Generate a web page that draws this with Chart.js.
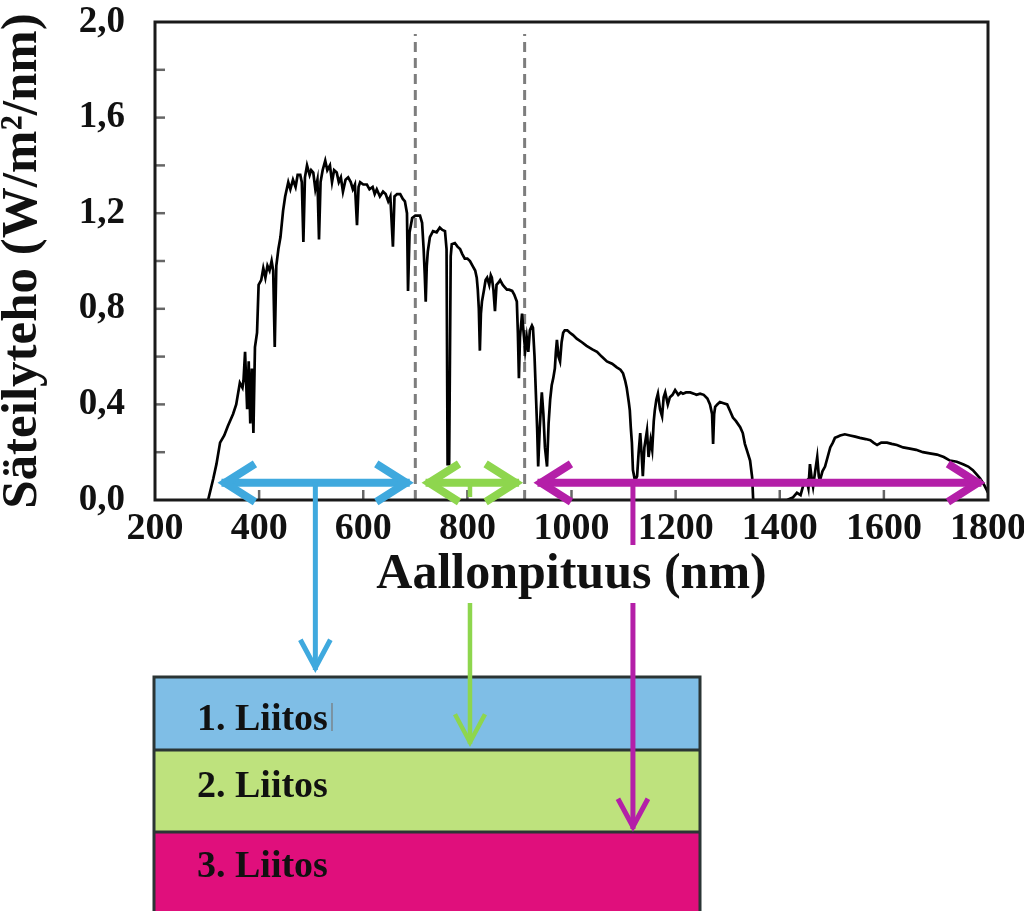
<!DOCTYPE html>
<html>
<head>
<meta charset="utf-8">
<script src="https://cdn.jsdelivr.net/npm/chart.js@4"></script>
<style>
  html, body { margin: 0; padding: 0; background: #fff; overflow: hidden; }
  canvas { display: block; }
</style>
</head>
<body>
<canvas id="spectrum" width="1024" height="911"></canvas>
<script>
// spectrum: wavelength (nm) and irradiance (W/m2/nm)
const wavelengths = [
  302, 312, 318, 325, 333, 340, 350, 356, 363, 368, 370, 373, 377, 380, 383, 386, 389, 392, 396, 399,
  404, 408, 412, 416, 420, 424, 427, 430, 433, 437, 441, 446, 450, 456, 460, 465, 470, 474, 479, 482,
  485, 488, 492, 497, 500, 504, 508, 512, 515, 518, 522, 527, 531, 536, 540, 544, 549, 553, 557, 561,
  566, 571, 576, 580, 584, 588, 591, 594, 600, 607, 612, 618, 622, 626, 632, 638, 643, 648, 652, 657,
  660, 665, 671, 676, 680, 684, 686, 689, 694, 700, 705, 709, 713, 716, 718, 720, 722, 724, 728, 734,
  741, 747, 752, 757, 760, 762, 765, 768, 770, 776, 781, 786, 790, 795, 800, 805, 810, 815, 818, 820,
  822, 824, 826, 828, 832, 835, 838, 842, 845, 847, 850, 853, 856, 860, 863, 868, 872, 876, 880, 886,
  890, 895, 897, 899, 901, 905, 908, 911, 914, 917, 920, 924, 926, 929, 932, 934, 936, 939, 941, 943,
  946, 949, 953, 956, 959, 962, 965, 968, 970, 972, 975, 978, 981, 984, 987, 992, 997, 1003, 1010, 1020,
  1029, 1040, 1049, 1058, 1068, 1078, 1087, 1094, 1099, 1103, 1106, 1110, 1112, 1114, 1116, 1118, 1122, 1126, 1129, 1132,
  1135, 1137, 1140, 1145, 1148, 1152, 1155, 1158, 1160, 1163, 1166, 1170, 1174, 1177, 1180, 1185, 1189, 1194, 1199, 1205,
  1210, 1214, 1220, 1228, 1235, 1240, 1247, 1254, 1261, 1266, 1270, 1272, 1274, 1276, 1280, 1285, 1292, 1299, 1305, 1310,
  1316, 1324, 1329, 1333, 1338, 1343, 1347, 1349, 1414, 1425, 1433, 1440, 1445, 1452, 1455, 1458, 1462, 1464, 1468, 1472,
  1475, 1477, 1482, 1487, 1492, 1497, 1502, 1506, 1511, 1516, 1525, 1535, 1545, 1554, 1565, 1574, 1580, 1587, 1595, 1606,
  1615, 1625, 1637, 1650, 1662, 1675, 1688, 1702, 1715, 1727, 1740, 1752, 1762, 1771, 1779, 1785, 1792, 1798, 1800
];
const irradiance = [
  0, 0.09, 0.15, 0.24, 0.27, 0.31, 0.36, 0.40, 0.49, 0.47, 0.50, 0.62, 0.38, 0.58, 0.32, 0.55, 0.28, 0.64, 0.70, 0.90,
  0.92, 0.97, 0.93, 0.98, 0.96, 1.00, 0.96, 0.64, 0.98, 1.05, 1.10, 1.21, 1.27, 1.33, 1.30, 1.34, 1.31, 1.36, 1.36, 1.33,
  1.08, 1.35, 1.40, 1.36, 1.38, 1.37, 1.30, 1.34, 1.09, 1.33, 1.38, 1.42, 1.38, 1.40, 1.33, 1.38, 1.37, 1.33, 1.35, 1.29,
  1.34, 1.35, 1.33, 1.30, 1.32, 1.15, 1.31, 1.33, 1.32, 1.32, 1.30, 1.31, 1.28, 1.30, 1.27, 1.29, 1.28, 1.25, 1.27, 1.06,
  1.27, 1.28, 1.28, 1.26, 1.25, 1.20, 0.875, 1.12, 1.18, 1.19, 1.19, 1.19, 1.16, 1.05, 0.95, 0.83, 0.98, 1.04, 1.10, 1.125,
  1.12, 1.14, 1.13, 1.125, 1.05, 0.15, 0.15, 1.02, 1.07, 1.075, 1.06, 1.05, 1.03, 1.01, 1.01, 1.00, 0.98, 0.96, 0.93, 0.88,
  0.80, 0.625, 0.78, 0.83, 0.88, 0.92, 0.93, 0.90, 0.94, 0.93, 0.88, 0.79, 0.90, 0.91, 0.92, 0.90, 0.89, 0.88, 0.88, 0.875,
  0.86, 0.83, 0.70, 0.51, 0.68, 0.78, 0.70, 0.625, 0.68, 0.62, 0.71, 0.73, 0.72, 0.60, 0.42, 0.30, 0.14, 0.30, 0.38, 0.45,
  0.36, 0.22, 0.14, 0.32, 0.42, 0.48, 0.51, 0.55, 0.62, 0.67, 0.60, 0.58, 0.66, 0.70, 0.71, 0.71, 0.70, 0.69, 0.675, 0.66,
  0.645, 0.63, 0.62, 0.60, 0.58, 0.57, 0.555, 0.545, 0.53, 0.50, 0.47, 0.41, 0.375, 0.30, 0.24, 0.125, 0.08, 0.10, 0.20, 0.28,
  0.18, 0.10, 0.22, 0.29, 0.18, 0.25, 0.21, 0.33, 0.375, 0.42, 0.445, 0.38, 0.35, 0.43, 0.45, 0.40, 0.43, 0.44, 0.46, 0.44,
  0.45, 0.445, 0.45, 0.45, 0.445, 0.44, 0.445, 0.44, 0.425, 0.40, 0.36, 0.235, 0.36, 0.39, 0.40, 0.41, 0.405, 0.40, 0.37, 0.345,
  0.33, 0.305, 0.28, 0.235, 0.20, 0.165, 0.095, 0, 0, 0.01, 0.03, 0.02, 0.06, 0.08, 0.05, 0.15, 0.08, 0.055, 0.12, 0.18,
  0.10, 0.08, 0.12, 0.14, 0.18, 0.22, 0.24, 0.26, 0.265, 0.27, 0.275, 0.27, 0.265, 0.26, 0.255, 0.25, 0.24, 0.23, 0.24, 0.24,
  0.235, 0.23, 0.22, 0.215, 0.21, 0.20, 0.195, 0.19, 0.18, 0.165, 0.16, 0.15, 0.14, 0.125, 0.105, 0.09, 0.065, 0.04, 0.03
];

const xTicks = [200, 400, 600, 800, 1000, 1200, 1400, 1600, 1800];
const yTicks = [0, 0.4, 0.8, 1.2, 1.6, 2.0];
const yMinorTicks = [0.2, 0.4, 0.6, 0.8, 1.0, 1.2, 1.4, 1.6, 1.8];

// dashed band edges (nm)
const bandEdges = [700, 910];

// junctions: absorbed range (nm) and where the down arrow leaves the range
const junctionNames = ['1. Liitos', '2. Liitos', '3. Liitos'];
const junctionStart = [320, 712, 927];
const junctionEnd = [697, 907, 1795];
const junctionStem = [508, 805, 1118];
const arrowColors = ['#3fa9de', '#8ed64e', '#b41fa8'];
const layerColors = ['#7fbee6', '#bee27d', '#e00f7c'];

const serif = "'Liberation Serif', 'Times New Roman', serif";

function chevron(ctx, tx, ty, dx, dy, len, half, w) {
  // dx,dy: unit direction pointing at the tip
  const ext = (w / 2) / Math.sin(Math.atan2(half, len));
  tx -= dx * ext; ty -= dy * ext;
  const bx = tx - dx * len, by = ty - dy * len;
  ctx.lineWidth = w;
  ctx.lineJoin = 'miter';
  ctx.miterLimit = 10;
  ctx.beginPath();
  ctx.moveTo(bx - dy * half, by + dx * half);
  ctx.lineTo(tx, ty);
  ctx.lineTo(bx + dy * half, by - dx * half);
  ctx.stroke();
}

function seg(ctx, x1, y1, x2, y2) {
  ctx.beginPath();
  ctx.moveTo(x1, y1);
  ctx.lineTo(x2, y2);
  ctx.stroke();
}

const overlay = {
  id: 'overlay',
  afterDatasetsDraw(chart) {
    const { ctx, chartArea: a, scales: { x, y } } = chart;
    ctx.save();
    ctx.lineCap = 'butt';

    // inner tick marks
    ctx.strokeStyle = '#666';
    ctx.lineWidth = 2.5;
    yMinorTicks.forEach(v => {
      const py = y.getPixelForValue(v);
      seg(ctx, a.left, py, a.left + 10, py);
    });
    xTicks.slice(1, -1).forEach(v => {
      const px = x.getPixelForValue(v);
      seg(ctx, px, a.bottom, px, a.bottom - 10);
    });

    // frame
    ctx.strokeStyle = '#1a1a1a';
    ctx.lineWidth = 3;
    ctx.strokeRect(a.left, a.top, a.right - a.left, a.bottom - a.top);

    // layer stack
    const boxTop = a.bottom + 177;
    const rowH = [73, 82, 95];
    const boxL = a.left - 1, boxR = a.left + 545;
    let top = boxTop;
    rowH.forEach((h, i) => {
      ctx.fillStyle = layerColors[i];
      ctx.fillRect(boxL, top, boxR - boxL, h);
      top += h;
    });
    ctx.strokeStyle = '#2b3535';
    ctx.lineWidth = 3;
    ctx.beginPath();
    ctx.moveTo(boxL, 911 + 5);
    ctx.lineTo(boxL, boxTop);
    ctx.lineTo(boxR, boxTop);
    ctx.lineTo(boxR, 911 + 5);
    ctx.stroke();
    seg(ctx, boxL, boxTop + rowH[0], boxR, boxTop + rowH[0]);
    seg(ctx, boxL, boxTop + rowH[0] + rowH[1], boxR, boxTop + rowH[0] + rowH[1]);

    ctx.fillStyle = '#111';
    ctx.font = 'bold 38px ' + serif;
    ctx.textAlign = 'left';
    ctx.textBaseline = 'alphabetic';
    const baselines = [53, 120, 200];
    junctionNames.forEach((t, i) => ctx.fillText(t, a.left + 42, boxTop + baselines[i]));
    ctx.strokeStyle = '#777';
    ctx.lineWidth = 1.2;
    seg(ctx, a.left + 177, boxTop + 26, a.left + 177, boxTop + 54);

    // horizontal range arrows
    const ay = y.getPixelForValue(0.072);
    const arrowW = 8;
    junctionStart.forEach((s, i) => {
      const x1 = x.getPixelForValue(s), x2 = x.getPixelForValue(junctionEnd[i]);
      ctx.strokeStyle = arrowColors[i];
      ctx.lineWidth = arrowW;
      seg(ctx, x1 + 4, ay, x2 - 4, ay);
      chevron(ctx, x1, ay, -1, 0, 30, 19, arrowW);
      chevron(ctx, x2, ay, 1, 0, 30, 19, arrowW);
    });

    // vertical arrows down to the layers (gaps where the axis texts sit)
    const stemSegs = [
      [[0, 173]],
      [[0, 0], [103, 247]],
      [[0, 48], [103, 332]]
    ];
    const stemW = [5, 4.5, 5];
    junctionStem.forEach((s, i) => {
      const px = x.getPixelForValue(s);
      ctx.strokeStyle = arrowColors[i];
      ctx.lineWidth = stemW[i];
      stemSegs[i].forEach(([t, b], k) => {
        const y1 = k === 0 ? ay : a.bottom + t;
        seg(ctx, px, y1, px, a.bottom + b - 3);
      });
      const last = stemSegs[i][stemSegs[i].length - 1][1];
      chevron(ctx, px, a.bottom + last, 0, 1, 28, 15, stemW[i]);
    });

    ctx.restore();
  }
};

const spectrumData = wavelengths.map((w, i) => ({ x: w, y: irradiance[i] }));
const edgeSets = bandEdges.map(e => ({
  data: [{ x: e, y: 0 }, { x: e, y: 1.95 }],
  borderColor: '#7d7d7d',
  borderWidth: 3,
  borderDash: [10, 6],
  pointRadius: 0
}));

new Chart(document.getElementById('spectrum'), {
  type: 'line',
  data: {
    datasets: [{
      data: spectrumData,
      borderColor: '#000',
      borderWidth: 2.7,
      pointRadius: 0,
      tension: 0,
      fill: false
    }, ...edgeSets]
  },
  options: {
    responsive: false,
    animation: false,
    layout: { padding: { left: 0, top: 22, right: 36, bottom: 311 } },
    plugins: { legend: { display: false }, tooltip: { enabled: false } },
    scales: {
      x: {
        type: 'linear',
        min: 200,
        max: 1800,
        afterBuildTicks: s => { s.ticks = xTicks.map(v => ({ value: v })); },
        afterFit: s => { s.height = 100; s.paddingLeft = 0; s.paddingRight = 0; },
        ticks: {
          autoSkip: false,
          maxRotation: 0,
          padding: 10,
          color: '#111',
          font: { family: serif, size: 38, weight: 'bold', lineHeight: 1 },
          callback: v => String(v)
        },
        grid: { display: false, drawTicks: false },
        border: { display: false },
        title: {
          display: true,
          text: 'Aallonpituus (nm)',
          color: '#111',
          padding: 0,
          font: { family: serif, size: 50, weight: 'bold', lineHeight: 1 }
        }
      },
      y: {
        type: 'linear',
        min: 0,
        max: 2,
        afterBuildTicks: s => { s.ticks = yTicks.map(v => ({ value: v })); },
        afterFit: s => { s.width = 155; s.paddingTop = 0; s.paddingBottom = 0; },
        ticks: {
          padding: 30,
          color: '#111',
          font: { family: serif, size: 37, weight: 'bold', lineHeight: 1 },
          callback: v => v.toFixed(1).replace('.', ',')
        },
        grid: { display: false, drawTicks: false },
        border: { display: false },
        title: {
          display: true,
          text: 'Säteilyteho (W/m²/nm)',
          color: '#111',
          padding: 0,
          font: { family: serif, size: 51, weight: 'bold', lineHeight: 0.9 }
        }
      }
    }
  },
  plugins: [overlay]
});
</script>
</body>
</html>
